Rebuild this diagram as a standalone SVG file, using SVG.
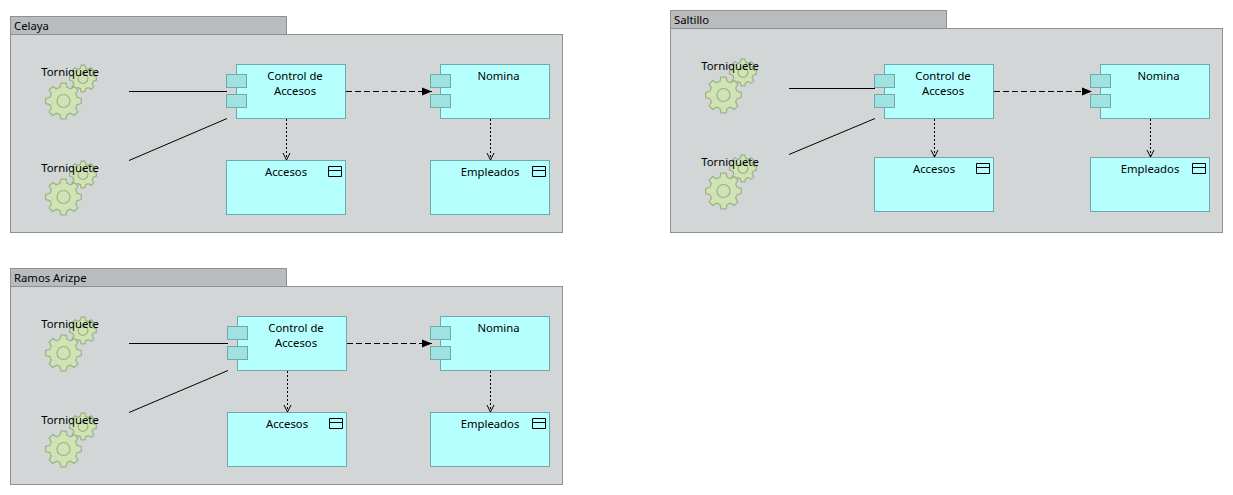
<svg xmlns="http://www.w3.org/2000/svg" xmlns:xlink="http://www.w3.org/1999/xlink" width="1233" height="495" viewBox="0 0 1233 495">
<style>
text{font-family:"Noto Sans","Open Sans","Liberation Sans",sans-serif;font-size:11.3px;fill:#000}
.m{text-anchor:middle}
.tab{fill:#b9bcbd;stroke:#8e9192}
.body{fill:#d2d6d6;stroke:#8e9192}
.el{fill:#b5ffff;stroke:#6fa9a9}
.port{fill:#a0e2e2;stroke:#6fa9a9}
.icon{fill:none;stroke:#000}
.gear{fill:#cfe3b4;stroke:#9cb287;stroke-width:1.2;vector-effect:non-scaling-stroke}
.gi{fill:none;stroke:#9cb287;stroke-width:1.2;vector-effect:non-scaling-stroke}
.solid{fill:none;stroke:#000}
.dash{fill:none;stroke:#000;stroke-dasharray:6 3}
.dot{fill:none;stroke:#000;stroke-dasharray:2 2}
</style>
<defs>
<marker id="fill" markerUnits="userSpaceOnUse" markerWidth="12" markerHeight="10" refX="10" refY="5" orient="auto"><path d="M0 1L10 5L0 9Z" fill="#000"/></marker>
<marker id="open" markerUnits="userSpaceOnUse" markerWidth="10" markerHeight="12" refX="7" refY="5" orient="auto"><path d="M0 1.500L7 5L0 8.500" fill="none" stroke="#000"/></marker>
<g id="g1"><path class="gear" d="M17.82 -2.5L17.82 2.5L13.52 3.62A14 14 0 0 1 12.12 7L14.38 10.83L10.83 14.38L7 12.12A14 14 0 0 1 3.62 13.52L2.5 17.82L-2.5 17.82L-3.62 13.52A14 14 0 0 1 -7 12.12L-10.83 14.38L-14.38 10.83L-12.12 7A14 14 0 0 1 -13.52 3.62L-17.82 2.5L-17.82 -2.5L-13.52 -3.62A14 14 0 0 1 -12.12 -7L-14.38 -10.83L-10.83 -14.38L-7 -12.12A14 14 0 0 1 -3.62 -13.52L-2.5 -17.82L2.5 -17.82L3.62 -13.52A14 14 0 0 1 7 -12.12L10.83 -14.38L14.38 -10.83L12.12 -7A14 14 0 0 1 13.52 -3.62Z"/><circle class="gi" r="6.500"/></g>
<g id="gears"><use xlink:href="#g1" href="#g1" transform="translate(83 78.500) scale(.75)"/><use xlink:href="#g1" href="#g1" transform="translate(63.500 101)"/></g>
</defs>

<g id="group-celaya">
<rect class="tab" x="10.5" y="16.5" width="276" height="18"/><rect class="body" x="10.5" y="34.5" width="552" height="198"/><text x="14" y="30">Celaya</text>
</g>
<g id="group-saltillo">
<rect class="tab" x="670.5" y="10.5" width="276" height="18"/><rect class="body" x="670.5" y="28.5" width="552" height="204"/><text x="674" y="24">Saltillo</text>
</g>
<g id="group-ramos">
<rect class="tab" x="10.5" y="268.5" width="276" height="18"/><rect class="body" x="10.5" y="286.5" width="552" height="198"/><text x="14" y="282">Ramos Arizpe</text>
</g>

<g id="c-t1"><use href="#gears" xlink:href="#gears"/><text class="m" x="70" y="76">Torniquete</text></g>
<g id="c-t2"><use href="#gears" xlink:href="#gears" y="96"/><text class="m" x="70" y="172">Torniquete</text></g>
<g id="c-control"><rect class="el" x="236.5" y="64.5" width="109" height="54"/><rect class="port" x="226.5" y="74.5" width="20" height="13"/><rect class="port" x="226.5" y="94.5" width="20" height="13"/><text class="m" x="295" y="80">Control de</text><text class="m" x="295" y="95">Accesos</text></g>
<g id="c-nomina"><rect class="el" x="440.5" y="64.5" width="109" height="54"/><rect class="port" x="430.5" y="74.5" width="20" height="13"/><rect class="port" x="430.5" y="94.5" width="20" height="13"/><text class="m" x="498.5" y="80">Nomina</text></g>
<g id="c-accesos"><rect class="el" x="226.5" y="160.5" width="119" height="54"/><path class="icon" d="M328.5 166.5h13v10h-13zM328.5 170.5h13"/><text class="m" x="286" y="176">Accesos</text></g>
<g id="c-empleados"><rect class="el" x="430.5" y="160.5" width="119" height="54"/><path class="icon" d="M532.5 166.5h13v10h-13zM532.5 170.5h13"/><text class="m" x="490" y="176">Empleados</text></g>

<g id="s-t1"><use href="#gears" xlink:href="#gears" x="660" y="-6"/><text class="m" x="730" y="70">Torniquete</text></g>
<g id="s-t2"><use href="#gears" xlink:href="#gears" x="660" y="90"/><text class="m" x="730" y="166">Torniquete</text></g>
<g id="s-control"><rect class="el" x="884.5" y="64.5" width="109" height="54"/><rect class="port" x="874.5" y="74.5" width="20" height="13"/><rect class="port" x="874.5" y="94.5" width="20" height="13"/><text class="m" x="943" y="80">Control de</text><text class="m" x="943" y="95">Accesos</text></g>
<g id="s-nomina"><rect class="el" x="1100.5" y="64.5" width="109" height="54"/><rect class="port" x="1090.5" y="74.5" width="20" height="13"/><rect class="port" x="1090.5" y="94.5" width="20" height="13"/><text class="m" x="1158.5" y="80">Nomina</text></g>
<g id="s-accesos"><rect class="el" x="874.5" y="157.5" width="119" height="54"/><path class="icon" d="M976.5 163.5h13v10h-13zM976.5 167.5h13"/><text class="m" x="934" y="173">Accesos</text></g>
<g id="s-empleados"><rect class="el" x="1090.5" y="157.5" width="119" height="54"/><path class="icon" d="M1192.5 163.5h13v10h-13zM1192.5 167.5h13"/><text class="m" x="1150" y="173">Empleados</text></g>

<g id="r-t1"><use href="#gears" xlink:href="#gears" y="252"/><text class="m" x="70" y="328">Torniquete</text></g>
<g id="r-t2"><use href="#gears" xlink:href="#gears" y="348"/><text class="m" x="70" y="424">Torniquete</text></g>
<g id="r-control"><rect class="el" x="237.5" y="316.5" width="109" height="54"/><rect class="port" x="227.5" y="326.5" width="20" height="13"/><rect class="port" x="227.5" y="346.5" width="20" height="13"/><text class="m" x="296" y="332">Control de</text><text class="m" x="296" y="347">Accesos</text></g>
<g id="r-nomina"><rect class="el" x="440.5" y="316.5" width="109" height="54"/><rect class="port" x="430.5" y="326.5" width="20" height="13"/><rect class="port" x="430.5" y="346.5" width="20" height="13"/><text class="m" x="498.5" y="332">Nomina</text></g>
<g id="r-accesos"><rect class="el" x="227.5" y="412.5" width="119" height="54"/><path class="icon" d="M329.5 418.5h13v10h-13zM329.5 422.5h13"/><text class="m" x="287" y="428">Accesos</text></g>
<g id="r-empleados"><rect class="el" x="430.5" y="412.5" width="119" height="54"/><path class="icon" d="M532.5 418.5h13v10h-13zM532.5 422.5h13"/><text class="m" x="490" y="428">Empleados</text></g>

<g id="connectors">
<path class="solid" d="M129 91.5H227"/><path class="solid" d="M129 160.5L227 118.5"/>
<path class="dash" marker-end="url(#fill)" d="M346 91.5H432"/>
<path class="dot" marker-end="url(#open)" d="M286.500 119V160"/><path class="dot" marker-end="url(#open)" d="M490.500 119V160"/>
<path class="solid" d="M789 88.500H875"/><path class="solid" d="M789 154.500L875 118.500"/>
<path class="dash" marker-end="url(#fill)" d="M994 91.500H1092"/>
<path class="dot" marker-end="url(#open)" d="M934.500 119V157"/><path class="dot" marker-end="url(#open)" d="M1150.500 119V157"/>
<path class="solid" d="M129 343.500H228"/><path class="solid" d="M129 412.500L228 370.500"/>
<path class="dash" marker-end="url(#fill)" d="M347 343.500H432"/>
<path class="dot" marker-end="url(#open)" d="M287.500 371V412"/><path class="dot" marker-end="url(#open)" d="M490.500 371V412"/>
</g>
</svg>
